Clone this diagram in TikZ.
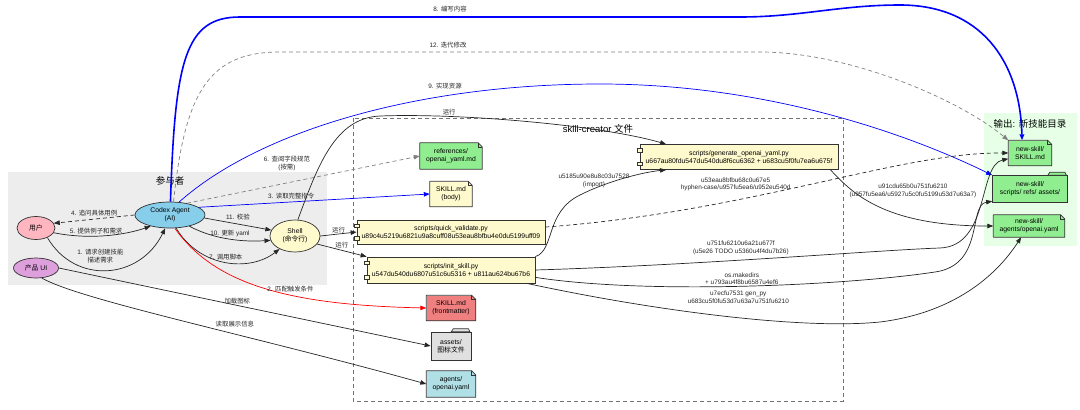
\documentclass[tikz,border=0pt]{standalone}
\usepackage{fontspec}
\setmainfont{Liberation Sans}
\newfontfamily\cjk{Noto Sans CJK SC}
\newcommand\zh[1]{{\cjk #1}}
\newcommand\nodefont{\fontsize{6.8}{8.2}\selectfont}
\newcommand\lblfont{\fontsize{6.4}{7.6}\selectfont}
\newcommand\titlefont{\fontsize{9.5}{11}\selectfont}
\usepackage{tikz}
\usetikzlibrary{shapes.geometric, arrows.meta, positioning, calc}
\definecolor{agentblue}{HTML}{87CEEB}
\definecolor{userpink}{HTML}{FFB6C1}
\definecolor{uiplum}{HTML}{DDA0DD}
\definecolor{shellyellow}{HTML}{FFFACD}
\definecolor{docgreen}{HTML}{90EE90}
\definecolor{docred}{HTML}{F08080}
\definecolor{docblue}{HTML}{B0E0E6}
\definecolor{icongray}{HTML}{E0E0E0}
\definecolor{actorbg}{HTML}{EDEDED}
\definecolor{outbg}{HTML}{E6FFE6}
\tikzset{
    actor/.style={ellipse, draw=black!80, line width=.7pt, inner sep=1pt, align=center, font=\nodefont},
    note/.style={rectangle, fill=#1, inner sep=1pt, align=center, font=\nodefont},
    folder/.style={rectangle, draw=black!80, line width=.7pt, fill=#1, inner sep=1pt, align=center, font=\nodefont},
    script/.style={rectangle, draw=black!80, line width=.7pt, fill=shellyellow, inner sep=2pt, align=center, font=\nodefont},
    title/.style={font=\titlefont, inner sep=0pt},
    lbl/.style={font=\lblfont, inner sep=1pt, align=center, text=black!85},
    arrow/.style={->, line width=.7pt, black!85},
    dasharrow/.style={arrow, dash pattern=on 4pt off 3pt},
    graydash/.style={arrow, gray, dash pattern=on 4pt off 3pt},
    bluearrow/.style={arrow, blue},
    redarrow/.style={arrow, red},
    cluster/.style={draw=black!55, line width=.6pt, dash pattern=on 4pt off 3pt},
}

\begin{document}
\begin{tikzpicture}[x=1pt, y=-1pt, >={Triangle[length=6pt,width=4.5pt]}, node distance=38pt]
  \useasboundingbox (0,0) rectangle (1080,410);
  \fill[actorbg] (8,172) rectangle (327,285);
  \draw[cluster] (353,118) rectangle (843,401);
  \fill[outbg] (984,113) rectangle (1077,246);
  \node[title] (actT) at (170,181) {\zh{参与者}};
  \node[title] (skillT) at (598,129) {skill-creator \zh{文件}};
  \node[title] (outT) at (1030,124) {\zh{输出}: \zh{新技能目录}};

  \node[actor, fill=userpink, minimum width=38pt, minimum height=23pt] (user) at (36,228) {\zh{用户}};
  \node[actor, fill=uiplum, minimum width=45pt, minimum height=20pt] (ui) at (36,268) {\zh{产品} UI};
  \node[actor, fill=agentblue, minimum width=70pt, minimum height=26pt] (codex) at (170,215) {Codex Agent\\(AI)};
  \node[actor, fill=shellyellow, minimum width=50pt, minimum height=32pt] (shell) at (295,236) {Shell\\(\zh{命令行})};

  \node[note=docgreen, minimum width=62pt, minimum height=26pt] (refs) at (451,156) {references/\\openai\_yaml.md};
  \node[note=shellyellow, minimum width=42pt, minimum height=25pt] (body) [below of=refs] {SKILL.md\\(body)};
  \node[script, minimum width=188pt, minimum height=24pt] (qv) [below of=body] {scripts/quick\_validate.py\\u89c4u5219u6821u9a8cuff08u53eau8bfbu4e0du5199uff09};
  \node[script, minimum width=168pt, minimum height=26pt] (init) [below of=qv] {scripts/init\_skill.py\\u547du540du6807u51c6u5316 + u811au624bu67b6};
  \node[note=docred, minimum width=49pt, minimum height=25pt] (front) [below of=init] {SKILL.md\\(frontmatter)};
  \node[folder=icongray, minimum width=40pt, minimum height=28pt] (assets) [below of=front] {assets/\\\zh{图标文件}};
  \node[note=docblue, minimum width=49pt, minimum height=26pt] (agents) [below of=assets] {agents/\\openai.yaml};
  \node[script, minimum width=198pt, minimum height=25pt] (gen) at (739,157) {scripts/generate\_openai\_yaml.py\\u667au80fdu547du540du8f6cu6362 + u683cu5f0fu7ea6u675f};

  \node[note=docgreen, minimum width=43pt, minimum height=25pt] (newskill) at (1030,153) {new-skill/\\SKILL.md};
  \node[folder=docgreen, minimum width=75pt, minimum height=27pt] (newdirs) at (1030,189) {new-skill/\\scripts/ refs/ assets/};
  \node[note=docgreen, minimum width=71pt, minimum height=22pt] (newyaml) at (1029,226) {new-skill/\\agents/openai.yaml};

  \foreach \n/\b in {refs/white,body/white,front/white,agents/white,newskill/outbg,newyaml/outbg} {
    \fill[\b] ($(\n.north east)+(-4.5pt,0.5pt)$) -- ($(\n.north east)+(0.5pt,0.5pt)$) -- ($(\n.north east)+(0.5pt,-4.5pt)$) -- cycle;
    \draw[black!80, line width=.7pt, line join=round] (\n.north west) -- ($(\n.north east)+(-4pt,0pt)$) -- ($(\n.north east)+(0pt,-4pt)$) -- (\n.south east) -- (\n.south west) -- cycle;
    \draw[black!80, line width=.6pt] ($(\n.north east)+(-4pt,0pt)$) |- ($(\n.north east)+(0pt,-4pt)$);
  }
  \foreach \n/\c in {assets/icongray,newdirs/docgreen}
    \filldraw[fill=\c, draw=black!80, line width=.7pt] ($(\n.north east)+(-20pt,0pt)$) -- ++(2pt,3pt) -- ++(15pt,0pt) -- ++(1.5pt,-3pt) -- cycle;
  \foreach \n in {qv,init,gen} {
    \filldraw[fill=shellyellow, draw=black!80, line width=.6pt] ($(\n.north west)+(0pt,-6pt)$) ++(-2.5pt,-1.75pt) rectangle ++(5pt,3.5pt);
    \filldraw[fill=shellyellow, draw=black!80, line width=.6pt] ($(\n.south west)+(0pt,6pt)$) ++(-2.5pt,-1.75pt) rectangle ++(5pt,3.5pt);
  }

  \draw[arrow] (user.320) .. controls (75,285) and (140,280) .. node[lbl, pos=.45, above=6pt] {1. \zh{请求创建技能}\\\zh{描述需求}} (codex.250);
  \draw[arrow] (user.345) .. controls (90,240) and (125,235) .. node[lbl, pos=.4, above=1pt] {5. \zh{提供例子和需求}} (codex.210);
  \draw[dasharrow] (codex.west) -- node[lbl, above=2pt] {4. \zh{追问具体用例}} (user.15);
  \draw[arrow] (codex.355) -- node[lbl, above=3pt] {11. \zh{校验}} (shell.166);
  \draw[arrow] (codex.330) .. controls (215,240) and (245,242) .. node[lbl, above=1pt] {10. \zh{更新} yaml} (shell.190);
  \draw[arrow] (codex.295) .. controls (200,268) and (250,272) .. node[lbl, above=1pt] {7. \zh{调用脚本}} (shell.220);
  \draw[redarrow] (codex.290) .. controls (215,285) and (290,305) .. node[lbl, pos=.6, above=2pt] {2. \zh{匹配触发条件}} (front.west);
  \draw[graydash] (codex.35) -- node[lbl, pos=.43, above=11pt] {6. \zh{查阅字段规范}\\(\zh{按需})} (refs.west);
  \draw[bluearrow] (codex.15) -- node[lbl, pos=.4, above=2pt] {3. \zh{读取完整指令}} (body.west);
  \draw[bluearrow, line width=1.6pt] (codex.88) .. controls (175,60) and (185,17) .. (240,17) -- node[lbl, pos=.42, above=3pt] {8. \zh{编写内容}} (740,17) .. controls (800,17) and (840,5) .. (900,5) .. controls (980,5) and (1020,60) .. (newskill.122);
  \draw[graydash] (codex.75) .. controls (185,90) and (210,52) .. (280,52) -- node[lbl, pos=.35, above=3pt] {12. \zh{迭代修改}} (760,52) .. controls (850,52) and (960,100) .. (newskill.north west);
  \draw[bluearrow] (codex.55) .. controls (260,130) and (420,84) .. node[lbl, pos=.7, above=6pt] {9. \zh{实现资源}} (600,84) .. controls (760,84) and (900,130) .. (newdirs.north west);

  \draw[arrow] (shell.east) -- node[lbl, above] {\zh{运行}} (qv.west);
  \draw[arrow] (shell.340) -- node[lbl, above=1pt] {\zh{运行}} (init.north west);
  \draw[arrow] (shell.80) .. controls (318,165) and (335,118) .. (380,116) .. controls (460,113) and (600,125) .. node[lbl, pos=.25, above] {\zh{运行}} (gen.170);

  \draw[arrow] (init.north east) .. controls (555,250) and (545,212) .. node[lbl, pos=1, xshift=14pt, yshift=14pt] {u5185u90e8u8c03u7528\\(import)} (580,195) .. controls (610,180) and (645,172) .. (gen.190);
  \draw[dasharrow] (qv.3) .. controls (750,212) and (900,152) .. node[lbl, pos=.34, above=8pt] {u53eau8bfbu68c0u67e5\\hyphen-case/u957fu5ea6/u952eu540d} (newskill.west);
  \draw[arrow] (gen.352) .. controls (850,190) and (880,226) .. node[lbl, pos=.25, anchor=west, yshift=-4pt] {u91cdu65b0u751fu6210\\(u957fu5ea6/u5927u5c0fu5199u53d7u63a7)} (newyaml.west);
  \draw[arrow] (init.east) .. controls (700,265) and (880,250) .. node[lbl, pos=.42, above=4pt] {u751fu6210u6a21u677f\\(u5e26 TODO u5360u4f4du7b26)} (940,248) .. controls (990,246) and (978,165) .. (newskill.195);
  \draw[arrow] (init.355) .. controls (650,295) and (850,285) .. node[lbl, pos=.49, above=0pt] {os.makedirs\\+ u793au4f8bu6587u4ef6} (935,272) .. controls (985,265) and (968,205) .. (newdirs.198);
  \draw[arrow] (init.350) .. controls (650,310) and (800,330) .. node[lbl, pos=.55, above=13pt] {u7ecfu7531 gen\_py\\u683cu5f0fu53d7u63a7u751fu6210} (880,322) .. controls (960,312) and (1000,270) .. (newyaml.235);

  \draw[arrow] (ui.east) -- node[lbl, pos=.48, above=0pt] {\zh{加载图标}} (assets.west);
  \draw[arrow] (ui.300) .. controls (80,300) and (250,335) .. node[lbl, pos=.62, above=6pt] {\zh{读取展示信息}} (agents.west);
\end{tikzpicture}
\end{document}
